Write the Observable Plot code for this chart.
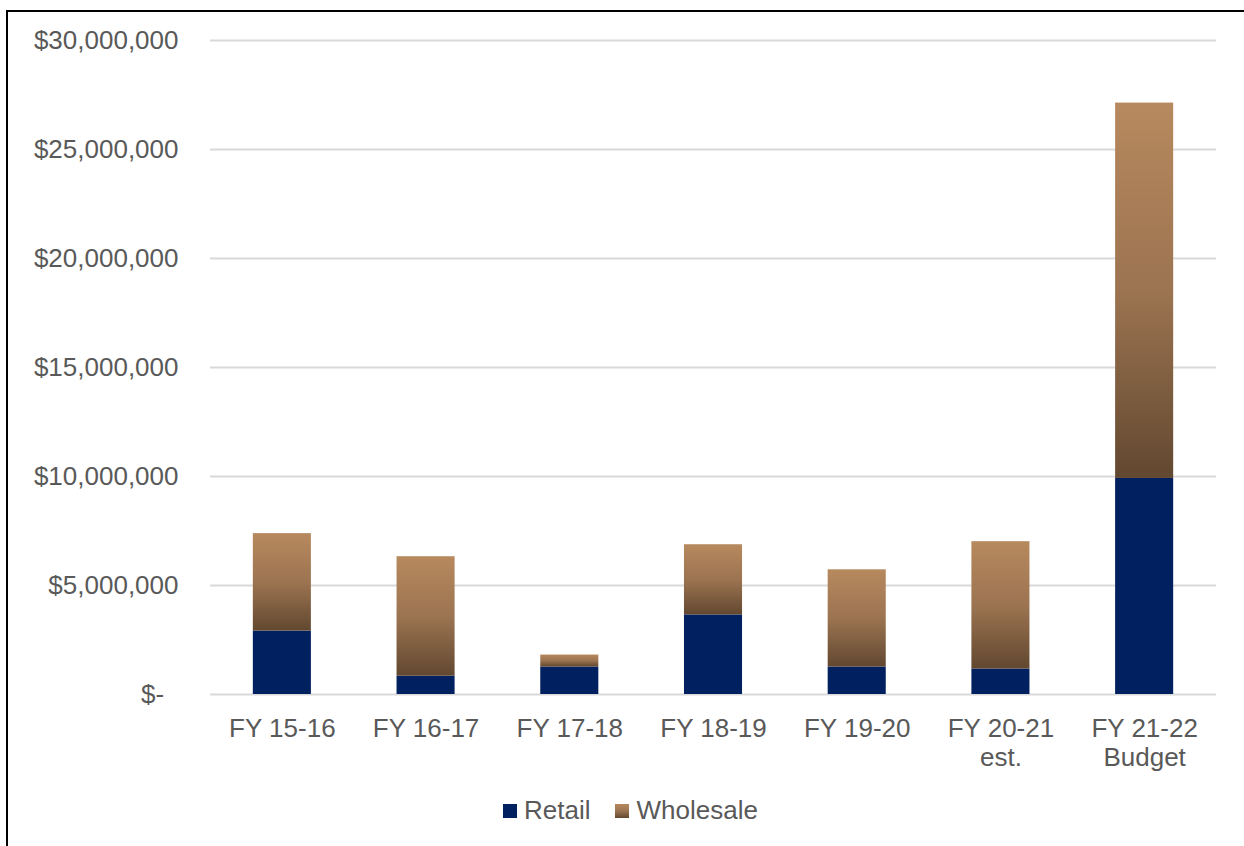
<!DOCTYPE html>
<html>
<head>
<meta charset="utf-8">
<script src="https://cdn.jsdelivr.net/npm/d3@7"></script>
<script src="https://cdn.jsdelivr.net/npm/@observablehq/plot@0.6"></script>
<style>
  html, body { margin: 0; padding: 0; background: #fff; overflow: hidden; width: 1244px; height: 846px; }
  #frame { position: absolute; left: 6px; top: 10px; width: 1400px; height: 1000px; border: 2px solid #000; box-sizing: border-box; }
  #chart { position: absolute; left: 0; top: 0; }
  #legend { position: absolute; left: 503px; top: 795px; display: flex; align-items: center; font-family: "Liberation Sans", Arial, sans-serif; font-size: 26px; color: #595959; white-space: nowrap; }
  .sw { width: 14px; height: 14px; display: inline-block; margin-right: 7px; }
  .item { display: flex; align-items: center; }
</style>
</head>
<body>
<div id="frame"></div>
<div id="chart"></div>
<div id="legend">
  <span class="item"><span class="sw" style="background:#002060"></span>Retail</span>
  <span class="item" style="margin-left:25px"><span class="sw" style="background:linear-gradient(#b7895e,#9c7451 50%,#624830)"></span>Wholesale</span>
</div>
<script>
const years = ["FY 15-16", "FY 16-17", "FY 17-18", "FY 18-19", "FY 19-20", "FY 20-21 est.", "FY 21-22 Budget"];
const xLabels = ["FY 15-16", "FY 16-17", "FY 17-18", "FY 18-19", "FY 19-20", "FY 20-21\nest.", "FY 21-22\nBudget"];
const retail = [2910000, 840000, 1260000, 3650000, 1260000, 1170000, 9910000];
const wholesale = [4470000, 5480000, 550000, 3220000, 4460000, 5840000, 17220000];
const series = ["Retail", "Wholesale"];
const yTicks = [0, 5000000, 10000000, 15000000, 20000000, 25000000, 30000000];

const data = [];
years.forEach((y, i) => {
  data.push({year: y, series: "Retail", value: retail[i]});
  data.push({year: y, series: "Wholesale", value: wholesale[i]});
});
const labelData = years.map((y, i) => ({year: y, label: xLabels[i]}));

const fmt = d3.format(",");
const chart = Plot.plot({
  width: 1244,
  height: 780,
  marginLeft: 210,
  marginRight: 28,
  marginTop: 40,
  marginBottom: 86,
  style: {fontFamily: "'Liberation Sans', Arial, sans-serif", fontSize: "26px", color: "#595959", background: "transparent", overflow: "visible"},
  x: {domain: years, padding: 0.596, paddingOuter: 0.298, round: false, axis: null},
  y: {domain: [0, 30000000], ticks: yTicks, tickSize: 0, tickPadding: 32, label: null,
      tickFormat: d => d === 0 ? "$-\u2007" : "$" + fmt(d)},
  color: {domain: series, range: ["#002060", "url(#wgrad)"]},
  marks: [
    Plot.ruleY(yTicks, {stroke: "#d9d9d9", strokeWidth: 2}),
    Plot.barY(data, Plot.stackY({x: "year", y: "value", fill: "series"})),
    Plot.text(labelData, {x: "year", text: "label", frameAnchor: "bottom", dy: 21, lineAnchor: "top", lineHeight: 1.14, fontSize: 26, fill: "#595959"})
  ]
});

const svg = d3.select(chart.tagName.toLowerCase() === "svg" ? chart : chart.querySelector("svg"));
const grad = svg.insert("defs", ":first-child").append("linearGradient")
  .attr("id", "wgrad").attr("x1", 0).attr("y1", 0).attr("x2", 0).attr("y2", 1);
grad.append("stop").attr("offset", "0%").attr("stop-color", "#b7895e");
grad.append("stop").attr("offset", "50%").attr("stop-color", "#9c7451");
grad.append("stop").attr("offset", "100%").attr("stop-color", "#624830");

document.getElementById("chart").appendChild(chart);
</script>
</body>
</html>
